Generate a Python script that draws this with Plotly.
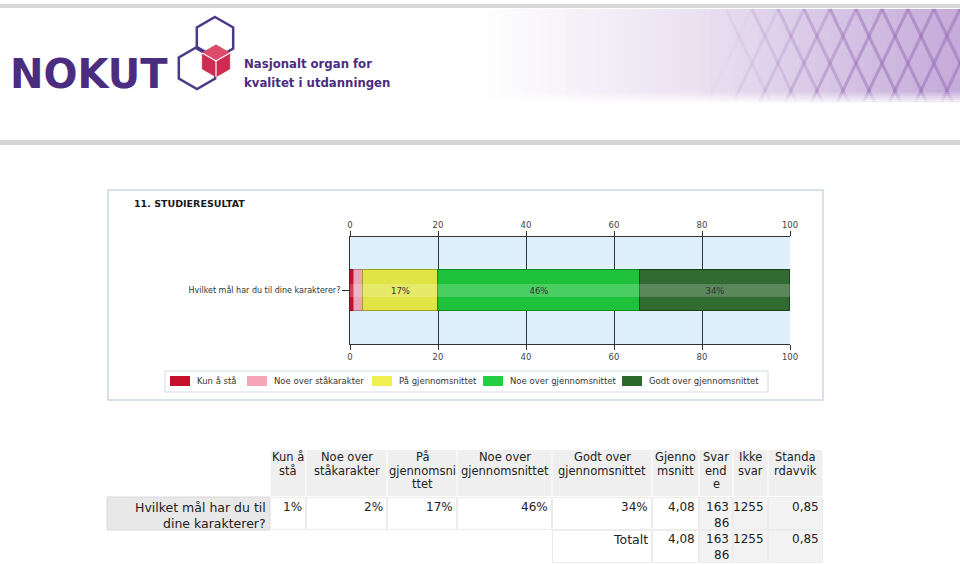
import math
import plotly.graph_objects as go

W, H = 960, 565

# ---------------- data ----------------
chart_title = "11. STUDIERESULTAT"
question = "Hvilket mål har du til dine karakterer?"
question_lines = ["Hvilket mål har du til", "dine karakterer?"]
categories = ["Kun å stå", "Noe over ståkarakter", "På gjennomsnittet",
              "Noe over gjennomsnittet", "Godt over gjennomsnittet"]
percentages = [1, 2, 17, 46, 34]
bar_colors = ["#c4122e", "#eca6b8", "#e0e444", "#1ec23a", "#316b31"]
edge_colors = ["#7a0a1c", "#b07080", "#9ca020", "#0c8a22", "#1a401a"]
legend_colors = ["#c8102e", "#f4a6b8", "#f0f050", "#22d040", "#2a6a2a"]
axis_ticks = [0, 20, 40, 60, 80, 100]

header_lines = [["Kun å", "stå"], ["Noe over", "ståkarakter"], ["På", "gjennomsni", "ttet"],
                ["Noe over", "gjennomsnittet"], ["Godt over", "gjennomsnittet"],
                ["Gjenno", "msnitt"], ["Svar", "end", "e"], ["Ikke", "svar"], ["Standa", "rdavvik"]]
mean_value = 4.08
respondents = 16386
no_answer = 1255
std_dev = 0.85
total_label = "Totalt"

logo_word = "NOKUT"
logo_tagline = ["Nasjonalt organ for", "kvalitet i utdanningen"]

# ---------------- helpers ----------------
shapes, annots = [], []
PX = lambda x: x / W
PY = lambda y: 1 - y / H
TFONT = "DejaVu Sans"


def rect(x0, y0, x1, y1, fill, line=None, lw=0, layer="below", opacity=1):
    shapes.append(dict(type="rect", xref="paper", yref="paper",
                       x0=PX(x0), x1=PX(x1), y0=PY(y1), y1=PY(y0),
                       fillcolor=fill, opacity=opacity,
                       line=dict(color=line or "rgba(0,0,0,0)", width=lw), layer=layer))


def line(x0, y0, x1, y1, color, lw=1, opacity=1, layer="below"):
    shapes.append(dict(type="line", xref="paper", yref="paper",
                       x0=PX(x0), x1=PX(x1), y0=PY(y0), y1=PY(y1), opacity=opacity,
                       line=dict(color=color, width=lw), layer=layer))


def path(pts, fill, color, lw, layer="above"):
    d = "M " + " L ".join(f"{PX(x):.5f},{PY(y):.5f}" for x, y in pts) + " Z"
    shapes.append(dict(type="path", xref="paper", yref="paper", path=d,
                       fillcolor=fill, line=dict(color=color, width=lw), layer=layer))


def hexpts(cx, cy, r):
    return [(cx + r * math.cos(math.radians(a)), cy - r * math.sin(math.radians(a)))
            for a in (90, 30, -30, -90, -150, 150)]


def text(x, y, s, size=12, color="#222", family=TFONT, xanchor="left", bold=False):
    annots.append(dict(xref="paper", yref="paper", x=PX(x), y=PY(y), text=(f"<b>{s}</b>" if bold else s),
                       showarrow=False, xanchor=xanchor, yanchor="middle",
                       font=dict(size=size, color=color, family=family)))

# ---------------- header ----------------
rect(0, 4, W, 8, "#d8d8d8")
rect(0, 140, W, 145, "#d4d4d4")

# banner gradient
n = 60
for i in range(n):
    xa = 478 + (W - 478) * i / n
    xb = 478 + (W - 478) * (i + 1) / n + 1
    t = i / (n - 1)
    if t < 0.45:
        u = t / 0.45
        c = (255 - 20 * u, 255 - 29 * u, 255 - 13 * u)
    else:
        u = (t - 0.45) / 0.55
        c = (235 - 38 * u, 226 - 54 * u, 242 - 24 * u)
    rect(xa, 9, xb, 103, "rgb(%d,%d,%d)" % c)
# lattice pattern
for k in range(14):
    x0 = 700 + k * 26
    for sgn in (1, -1):
        xa, ya, xb, yb = x0, 9, x0 + sgn * 45, 103
        op = max(0.0, min(0.45, (min(xa, xb) - 700) / 320))
        if op > 0:
            line(xa, ya, xb, yb, "#9466b4", lw=3, opacity=op)
for j in range(6):
    rect(478, 92 + j * 2, W, 94 + j * 2, "white", opacity=0.15 + j * 0.15)

# logo
text(8, 74, logo_word, size=40, color="#4b2d80", family="DejaVu Sans", bold=True)
path(hexpts(215, 38, 21), "rgba(0,0,0,0)", "#4b3a86", 2.5)
path(hexpts(197, 68, 21), "rgba(0,0,0,0)", "#4b3a86", 2.5)
cube = hexpts(216, 61, 16)
path(cube, "#cf2a52", "#cf2a52", 0.5)
cc = (216, 61)
path([cube[0], cube[1], cc, cube[5]], "#dc4a6c", "#dc4a6c", 0.5)
for v in (cube[1], cube[3], cube[5]):
    line(cc[0], cc[1], v[0], v[1], "white", lw=1.2, layer="above")
for j, s in enumerate(logo_tagline):
    text(242, 63 + j * 19, s, size=13, color="#4b2d80",
         family="DejaVu Sans Condensed, DejaVu Sans", bold=True)

# ---------------- chart panel ----------------
rect(108, 190, 823, 400, "rgba(0,0,0,0)", line="#c9d8e6", lw=1.5)
text(132, 204, chart_title, size=9.5, color="#1a1a1a", family="DejaVu Sans", bold=True)

fig = go.Figure()
for name, val, col, ec in zip(categories, percentages, bar_colors, edge_colors):
    fig.add_trace(go.Bar(
        y=[question], x=[val], name=name, orientation="h",
        marker=dict(color=col, line=dict(color=ec, width=1)),
        width=0.374, hoverinfo="skip", showlegend=False))
# glossy highlight band over the same values (overlay axis), carrying the value labels
for val in percentages:
    fig.add_trace(go.Bar(
        y=[question], x=[val], orientation="h", yaxis="y2", width=0.12,
        marker=dict(color="rgba(255,255,255,0.2)", line=dict(width=0)),
        text=[f"{val}%" if val >= 5 else ""], textposition="inside",
        insidetextanchor="middle", textangle=0, constraintext="none",
        textfont=dict(size=8.5, color="#333", family="DejaVu Sans"),
        hoverinfo="skip", showlegend=False))
fig.add_trace(go.Scatter(x=[axis_ticks[0], axis_ticks[-1]], y=[question, question], xaxis="x2",
                         mode="markers", marker=dict(opacity=0), showlegend=False, hoverinfo="skip"))

axis_common = dict(range=[axis_ticks[0], axis_ticks[-1]], tickvals=axis_ticks, ticks="outside",
                   ticklen=5, tickcolor="#333", showline=True, linecolor="#333", linewidth=1,
                   zeroline=False, tickfont=dict(size=8.5, color="#444", family="DejaVu Sans"),
                   fixedrange=True, automargin=False)

# manual legend built from the series names / colours
legend_x = [170, 247, 372, 483, 622]
rect(165, 371, 768, 392, "white", line="#d4dce4", lw=1)
for lx, name, col in zip(legend_x, categories, legend_colors):
    rect(lx, 376, lx + 20, 386, col)
    text(lx + 25, 381, name, size=8.5, color="#333", family="DejaVu Sans")

# ---------------- table ----------------
col_x = [270, 306, 387, 457, 552, 652, 699, 733, 768, 823]
label_x0 = 107
hdr_y0, hdr_y1 = 450, 497
row_y0, row_y1 = 497, 530
tot_y0, tot_y1 = 530, 563

for i in range(len(header_lines)):
    rect(col_x[i] + 0.5, hdr_y0, col_x[i + 1] - 0.5, hdr_y1 - 1, "#efefef")
rect(label_x0, row_y0, col_x[0], row_y1, "#e8e8e8", line="#dadada", lw=1)
for i in range(len(header_lines)):
    fill = "#f3f3f3" if i >= 6 else "white"
    rect(col_x[i] + 0.5, row_y0 + 0.5, col_x[i + 1] - 0.5, row_y1 - 0.5, fill, line="#ececec", lw=1)
for i in range(4, len(header_lines)):
    fill = "#f3f3f3" if i >= 6 else "white"
    rect(col_x[i] + 0.5, tot_y0 + 0.5, col_x[i + 1] - 0.5, tot_y1 - 0.5, fill, line="#ececec", lw=1)

for i, lines in enumerate(header_lines):
    cx = (col_x[i] + col_x[i + 1]) / 2
    for j, s in enumerate(lines):
        text(cx, 457 + j * 13.5, s, size=11.5, color="#222", xanchor="center")

for j, s in enumerate(question_lines):
    text(col_x[0] - 2, 507 + j * 16, s, size=12.5, color="#222", xanchor="right")

fmt = lambda v: f"{v:.2f}".replace(".", ",")
resp = str(respondents)
row_cells = [[f"{p}%"] for p in percentages] + [[fmt(mean_value)], [resp[:3], resp[3:]],
                                                 [str(no_answer)], [fmt(std_dev)]]
for i, cell in enumerate(row_cells):
    for j, s in enumerate(cell):
        text(col_x[i + 1] - 2, 507 + j * 16, s, size=12, color="#222", xanchor="right")

total_cells = [[total_label], [fmt(mean_value)], [resp[:3], resp[3:]], [str(no_answer)], [fmt(std_dev)]]
for k, cell in enumerate(total_cells):
    i = 4 + k
    for j, s in enumerate(cell):
        text(col_x[i + 1] - 2, 539 + j * 16, s, size=12.5 if s == total_label else 12,
             color="#222", xanchor="right")

fig.update_layout(
    width=W, height=H, margin=dict(l=0, r=0, t=0, b=0, pad=0, autoexpand=False),
    paper_bgcolor="white", plot_bgcolor="#ddf0fb",
    barmode="stack", bargap=0,
    xaxis=dict(domain=[PX(350), PX(790)], anchor="y", side="bottom", showgrid=True,
               gridcolor="#333", gridwidth=1, **axis_common),
    xaxis2=dict(domain=[PX(350), PX(790)], anchor="y", overlaying="x", side="top",
                showgrid=False, **axis_common),
    yaxis=dict(domain=[PY(344), PY(237)], range=[-0.5, 0.5], showline=True, linecolor="#333",
               ticks="outside", ticklen=7, tickcolor="#333", showgrid=False, fixedrange=True,
               automargin=False, tickfont=dict(size=8, color="#333", family="DejaVu Sans")),
    yaxis2=dict(domain=[PY(344), PY(237)], range=[-0.5, 0.5], overlaying="y", anchor="x",
                visible=False, fixedrange=True, automargin=False),
    showlegend=False,
    shapes=shapes, annotations=annots,
)

fig.write_html("out.html")
